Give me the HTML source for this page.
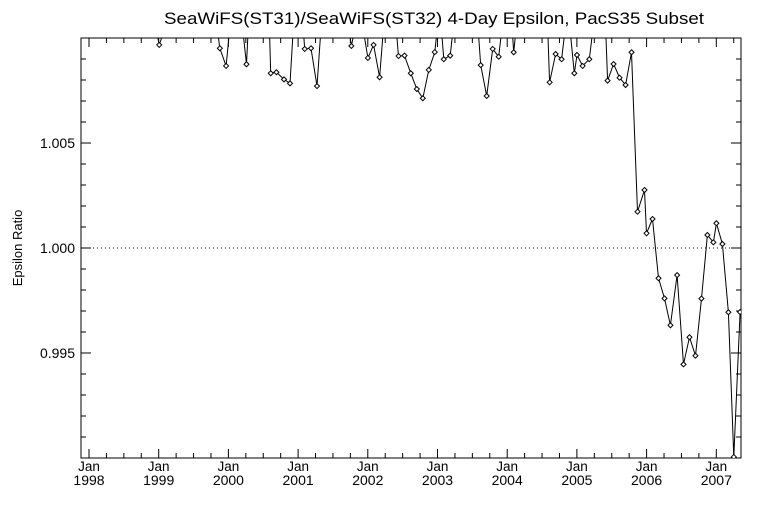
<!DOCTYPE html>
<html><head><meta charset="utf-8"><style>
body{margin:0;background:#fff}
svg{display:block;font-family:"Liberation Sans",sans-serif}
</style></head><body>
<svg id="chart" width="768" height="512" viewBox="0 0 768 512" xmlns="http://www.w3.org/2000/svg">
<rect width="768" height="512" fill="#fff"/>
<defs><clipPath id="pc"><rect x="81" y="38" width="660" height="420"/></clipPath></defs>
<text x="164" y="24" font-size="17" textLength="540" lengthAdjust="spacingAndGlyphs">SeaWiFS(ST31)/SeaWiFS(ST32) 4-Day Epsilon, PacS35 Subset</text>
<text transform="translate(22,248) rotate(-90)" font-size="13" text-anchor="middle">Epsilon Ratio</text>
<g id="axes"></g>
<g id="series" clip-path="url(#pc)"></g>
</svg>
<script>
const years = [1998.5,1998.9,1999.007,1999.2,1999.5,1999.8,1999.877,1999.967,2000.05,2000.17,2000.259,2000.30,2000.45,2000.58,2000.607,2000.689,2000.798,2000.884,2000.95,2001.05,2001.095,2001.185,2001.271,2001.35,2001.5,2001.68,2001.764,2001.88,2002.001,2002.083,2002.169,2002.25,2002.38,2002.441,2002.527,2002.617,2002.703,2002.789,2002.875,2002.961,2003.03,2003.090,2003.182,2003.26,2003.4,2003.56,2003.620,2003.706,2003.792,2003.878,2003.96,2004.05,2004.093,2004.16,2004.3,2004.45,2004.57,2004.609,2004.695,2004.781,2004.87,2004.963,2005.001,2005.082,2005.178,2005.27,2005.4,2005.440,2005.526,2005.612,2005.698,2005.784,2005.870,2005.970,2005.999,2006.085,2006.171,2006.257,2006.342,2006.438,2006.529,2006.615,2006.701,2006.787,2006.872,2006.958,2007.001,2007.087,2007.173,2007.251,2007.341];
const values = [1.0115,1.0115,1.00967,1.0115,1.0115,1.0115,1.00951,1.00867,1.0115,1.0115,1.00875,1.0115,1.0115,1.0115,1.00832,1.00837,1.00803,1.00784,1.0115,1.0115,1.00948,1.00951,1.00771,1.0115,1.0115,1.0115,1.00962,1.0115,1.00905,1.00967,1.00813,1.0115,1.0115,1.00914,1.00916,1.00832,1.00757,1.00713,1.00848,1.00933,1.0115,1.00899,1.00916,1.0115,1.0115,1.0115,1.00871,1.00724,1.00948,1.00911,1.0115,1.0115,1.00932,1.0115,1.0115,1.0115,1.0115,1.00789,1.00924,1.00899,1.0115,1.00832,1.00919,1.00867,1.00899,1.0115,1.0115,1.00797,1.00876,1.00811,1.00776,1.00932,1.00173,1.00276,1.00070,1.00138,0.99856,0.99760,0.99632,0.99871,0.99446,0.99575,0.99487,0.99759,1.00062,1.00027,1.00118,1.00019,0.99694,0.99005,0.99695];
const yTicks = [0.995,1.000,1.005];
const yTickLabels = ["0.995","1.000","1.005"];
const xYears = [1998,1999,2000,2001,2002,2003,2004,2005,2006,2007];
const refValue = 1.000;

const X0=81,X1=741,Y0=38,Y1=458;
const xs=y=>89+(y-1998)*69.7;
const ys=v=>Y1-(v-0.990)/(0.020)*(Y1-Y0);
const NS="http://www.w3.org/2000/svg";
const axes=document.getElementById('axes'), ser=document.getElementById('series');
function mk(tag,attrs,parent){const e=document.createElementNS(NS,tag);for(const k in attrs)e.setAttribute(k,attrs[k]);parent.appendChild(e);return e;}
const frame=mk('rect',{x:X0,y:Y0,width:X1-X0,height:Y1-Y0,fill:'none',stroke:'#000','stroke-width':1},axes);


for(let i=0;i<=20;i++){const v=0.990+i*0.001;const y=ys(v);const major=(i%5===0);const L=major?10:5;
 mk('line',{x1:X0,x2:X0+L,y1:y,y2:y,stroke:'#000'},axes);mk('line',{x1:X1,x2:X1-L,y1:y,y2:y,stroke:'#000'},axes);}
yTicks.forEach((v,i)=>{const t=mk('text',{x:X0-6,y:ys(v)+5,'font-size':14,'text-anchor':'end'},axes);t.textContent=yTickLabels[i];
 
 });
for(let q=-1;q<=38;q++){const yr=1998+q*0.25;const x=xs(yr);if(x<X0||x>X1)continue;const major=(q%4===0);const L=major?9:5;
 mk('line',{x1:x,x2:x,y1:Y1,y2:Y1-L,stroke:'#000'},axes);mk('line',{x1:x,x2:x,y1:Y0,y2:Y0+L,stroke:'#000'},axes);}
xYears.forEach(yr=>{const x=xs(yr);
 const a=mk('text',{x:x,y:471,'font-size':13.5,'text-anchor':'middle'},axes);a.textContent='Jan';
 
 
 const b=mk('text',{x:x,y:485,'font-size':14,'text-anchor':'middle'},axes);b.textContent=String(yr);
 
 });
const ref=mk('line',{x1:X0,x2:X1,y1:ys(refValue),y2:ys(refValue),stroke:'#000','stroke-dasharray':'1,3'},axes);


const pts=years.map((y,i)=>xs(y).toFixed(1)+','+ys(values[i]).toFixed(1)).join(' ');
const line=mk('polyline',{points:pts,fill:'none',stroke:'#000','stroke-width':1},ser);


years.forEach((y,i)=>{const cx=xs(y),cy=ys(values[i]);
 const d=mk('polygon',{points:`${cx},${cy-2.5} ${cx+2.5},${cy} ${cx},${cy+2.5} ${cx-2.5},${cy}`,fill:'#fff',stroke:'#000','stroke-width':1},ser);
 
 });
</script>
</body></html>
